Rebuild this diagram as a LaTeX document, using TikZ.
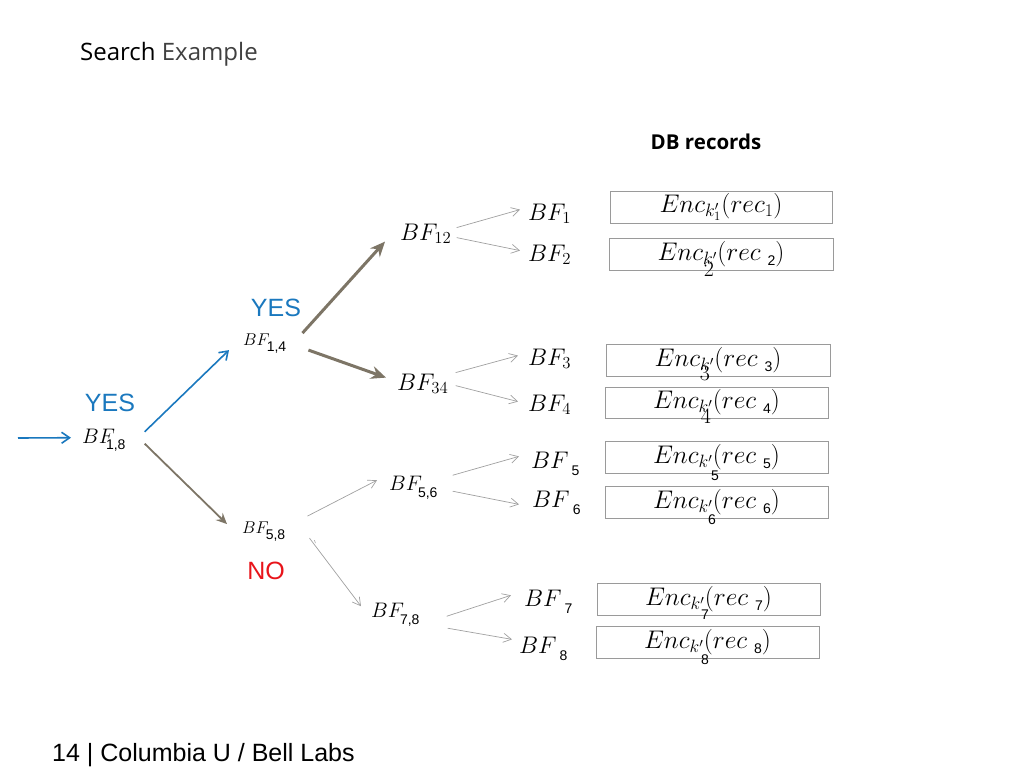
\RequirePackage{fix-cm}
\documentclass[tikz,border=0pt]{standalone}
\usepackage{fontspec}
\newfontfamily\arial{Liberation Sans}
\newfontfamily\segoe{Open Sans}
\usetikzlibrary{arrows.meta}
\definecolor{ybl}{HTML}{1A78BE}
\definecolor{taupe}{HTML}{7D7566}
\definecolor{agray}{HTML}{A0A0A0}
\definecolor{bgray}{HTML}{9A9A9A}
\definecolor{nored}{HTML}{E8141A}
\newcommand{\subf}{\arial\fontsize{14}{14}\selectfont}
\newcommand{\bfn}[3]{$BF$\hspace{#1}\raisebox{#2}{\subf #3}}
\newcommand{\encg}[1]{$Enc_{k'}(rec\;$\raisebox{-5pt}{\subf #1}$)$}
\tikzset{
  mth/.style={inner sep=1pt, anchor=base west, font=\fontsize{24}{27}\selectfont},
  mthb/.style={inner sep=1pt, anchor=base west, font=\fontsize{24}{27}\selectfont},
  mthm/.style={inner sep=1pt, anchor=base west, font=\fontsize{21}{24}\selectfont},
  mths/.style={inner sep=1pt, anchor=base west, font=\fontsize{17}{20}\selectfont},
  encbox/.style={draw=bgray, line width=0.9pt, minimum width=222pt, minimum height=32pt, inner sep=0pt, font=\fontsize{25.5}{28}\selectfont},
  glitchs/.style={inner sep=0pt, font=\subf},
  glitchr/.style={inner sep=0pt, font=\fontsize{22}{22}\selectfont},
  lbl/.style={inner sep=0pt, font=\arial\fontsize{25}{27}\selectfont},
  thinar/.style={draw=agray, line width=0.7pt, -{Straight Barb[length=8pt,width=9pt]}},
  thickar/.style={draw=taupe, line width=3pt, -{Stealth[length=15pt,width=13pt,inset=5pt]}},
  medar/.style={draw=taupe, line width=1.8pt, -{Stealth[length=11pt,width=10pt,inset=4pt]}},
  bluear/.style={draw=ybl, line width=1.6pt, -{Straight Barb[length=8pt,width=11pt]}},
}
\begin{document}
\begin{tikzpicture}[x=1pt,y=-1pt]
\useasboundingbox (0,0) rectangle (1024,768);
% title
\node[anchor=base west, inner sep=0pt, font=\segoe\fontsize{24}{28}\selectfont] (title) at (80,60) {Search \textcolor[HTML]{404040}{Example}};
\node[inner sep=0pt, font=\segoe\bfseries\fontsize{20.5}{24}\selectfont] (db) at (706,142) {DB records};
% boxes
\node[encbox] (e1) at (721,207) {$Enc_{k'_1}(rec_1)$};
\node[encbox, minimum width=224pt] (e2) at (721,254) {\encg{2}};
\node[encbox, minimum width=224pt] (e3) at (718,360) {\encg{3}};
\node[encbox, minimum width=223pt, minimum height=31pt] (e4) at (716.5,402.5) {\encg{4}};
\node[encbox, minimum width=223pt] (e5) at (716.5,457) {\encg{5}};
\node[encbox, minimum width=223pt] (e6) at (716.5,502) {\encg{6}};
\node[encbox, minimum width=223pt] (e7) at (708.5,599) {\encg{7}};
\node[encbox, minimum width=223pt] (e8) at (707.5,642) {\encg{8}};
% misplaced digits
\node[glitchr] (g2) at (709,269) {2};
\node[glitchr] (g3) at (705,373) {3};
\node[glitchr] (g4) at (706,416) {4};
\node[glitchs] (g5) at (715,476) {5};
\node[glitchs] (g6) at (712,520) {6};
\node[glitchs] (g7) at (705,615) {7};
\node[glitchs] (g8) at (705,660) {8};
% leaves
\node[mth] (bf1) at (527,220) {$BF_1$};
\node[mth] (bf2) at (527,261) {$BF_2$};
\node[mth] (bf3) at (527,365) {$BF_3$};
\node[mth] (bf4) at (527,411) {$BF_4$};
\node[mth] (bf5) at (530,468) {\bfn{3pt}{-7pt}{5}};
\node[mth] (bf6) at (531,507) {\bfn{3pt}{-7pt}{6}};
\node[mth] (bf7) at (523,606) {\bfn{3pt}{-7pt}{7}};
\node[mth] (bf8) at (518,653) {\bfn{3pt}{-7pt}{8}};
% middle
\node[mthb] (bf12) at (399,240) {$BF_{12}$};
\node[mthb] (bf34) at (396,390) {$BF_{34}$};
\node[mthm] (bf56) at (388,490) {\bfn{-4pt}{-7pt}{5,6}};
\node[mthm] (bf78) at (370,617) {\bfn{-4pt}{-7pt}{7,8}};
\node[mths] (bf14) at (242,345) {\bfn{-3pt}{-6pt}{1,4}};
\node[mths] (bf58) at (241,533) {\bfn{-3pt}{-6pt}{5,8}};
\node[mthm] (bf18) at (81,443) {\bfn{-9pt}{-6pt}{1,8}};
% labels
\node[lbl, text=ybl] (yes1) at (110,403) {YES};
\node[lbl, text=ybl] (yes2) at (276,308) {YES};
\node[lbl, text=nored] (no) at (266,571) {NO};
% incoming
\coordinate (in) at (18,438);
\draw[bluear] (in) -- ([xshift=-10pt,yshift=2pt]bf18.west);
% level 1
\draw[bluear] ([xshift=18pt,yshift=8pt]bf18.east) -- ([xshift=-13pt,yshift=-7pt]bf14.west);
\draw[medar] ([xshift=18pt,yshift=-4pt]bf18.east) -- ([xshift=-14pt,yshift=7pt]bf58.west);
% level 2
\draw[thickar] ([xshift=15pt,yshift=10pt]bf14.east) -- ([xshift=-14pt,yshift=-8pt]bf12.west);
\draw[thickar] ([xshift=21pt,yshift=-7pt]bf14.east) -- ([xshift=-10pt,yshift=6pt]bf34.west);
\draw[thinar] ([xshift=21pt,yshift=15pt]bf58.east) -- ([xshift=-11pt,yshift=7pt]bf56.west);
\draw[thinar] ([xshift=23pt,yshift=-7pt]bf58.east) -- ([xshift=-9pt,yshift=8pt]bf78.west);
\draw[agray, line width=0.6pt] ([xshift=28pt,yshift=-9pt]bf58.east) -- ([xshift=29pt,yshift=-12pt]bf58.east);
% level 3
\draw[thinar] ([xshift=4pt,yshift=6pt]bf12.east) -- ([xshift=-7pt,yshift=4pt]bf1.west);
\draw[thinar] ([xshift=4pt,yshift=-4pt]bf12.east) -- ([xshift=-7pt,yshift=4pt]bf2.west);
\draw[thinar] ([xshift=6pt,yshift=11pt]bf34.east) -- ([xshift=-9pt,yshift=3pt]bf3.west);
\draw[thinar] ([xshift=6pt,yshift=-2pt]bf34.east) -- ([xshift=-9pt,yshift=3pt]bf4.west);
\draw[thinar] ([xshift=14pt,yshift=12pt]bf56.east) -- ([xshift=-11pt,yshift=7pt]bf5.west);
\draw[thinar] ([xshift=14pt,yshift=-4pt]bf56.east) -- ([xshift=-12pt,yshift=-2pt]bf6.west);
\draw[thinar] ([xshift=26pt,yshift=-2pt]bf78.east) -- ([xshift=-12pt,yshift=6pt]bf7.west);
\draw[thinar] ([xshift=27pt,yshift=-14pt]bf78.east) -- ([xshift=-6pt,yshift=9pt]bf8.west);
% footer
\node[anchor=base west, inner sep=0pt, font=\arial\fontsize{25}{27}\selectfont] (foot) at (52,761) {14 | Columbia U / Bell Labs};
\end{tikzpicture}
\end{document}
